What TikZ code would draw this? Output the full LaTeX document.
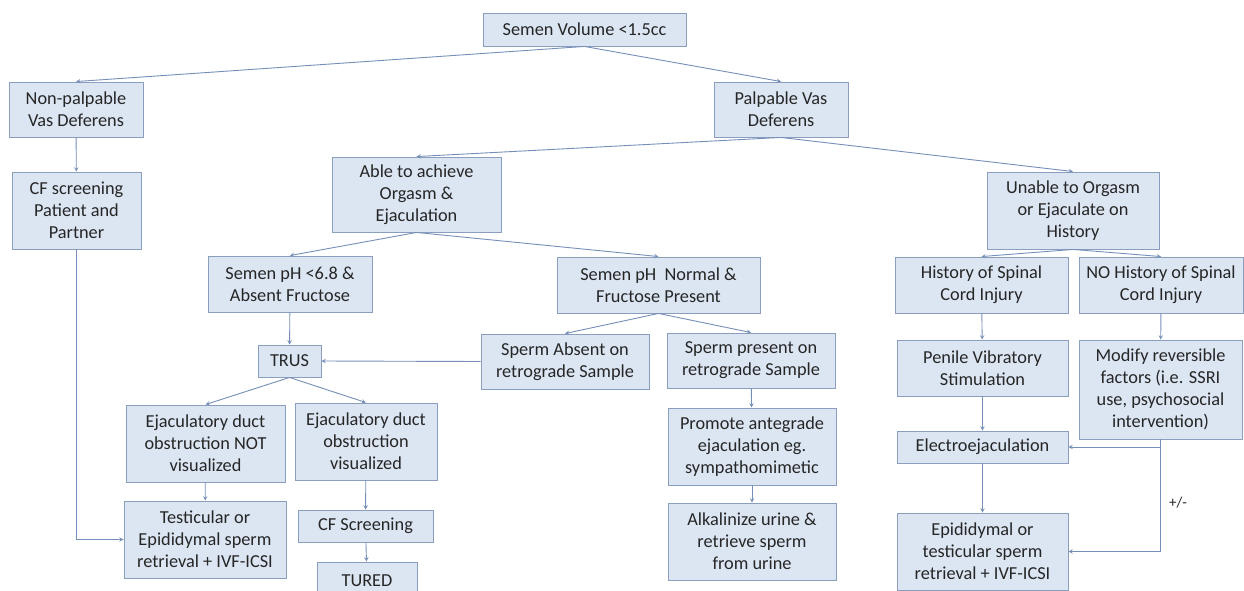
\documentclass[tikz,border=0pt]{standalone}
\usepackage{fontspec}
\setmainfont{Carlito}
\usepackage{xcolor}
\usepackage{tikz}
\usetikzlibrary{arrows}
\definecolor{boxfill}{RGB}{220,230,243}
\definecolor{boxline}{RGB}{140,158,190}
\definecolor{linkline}{RGB}{118,143,184}
\tikzset{
  box/.style={draw=boxline, fill=boxfill, line width=0.9pt, align=center,
    inner sep=0pt, text=black!85, font=\fontsize{18.3}{22}\selectfont},
  link/.style={draw=linkline, line width=0.9pt, ->, >=stealth}
}
\begin{document}
\begin{tikzpicture}[x=1pt,y=-1pt]
	\useasboundingbox[fill=white] (0,0) rectangle (1244,591);
	% top levels
	\node[box, minimum width=203, minimum height=33] (vol) at (584.5,29.5) {Semen Volume <1.5cc};
	\node[box, minimum width=134, minimum height=55] (nonpalp) at (76,109.5) {Non-palpable\\Vas Deferens};
	\node[box, minimum width=134, minimum height=55] (palp) at (781,109.5) {Palpable Vas\\Deferens};
	\node[box, minimum width=129, minimum height=77] (cfpat) at (76.5,210.5) {CF screening\\Patient and\\Partner};
	\node[box, minimum width=169, minimum height=75] (able) at (416.5,194.5) {Able to achieve\\Orgasm \&\\Ejaculation};
	\node[box, minimum width=172, minimum height=77] (unable) at (1073,210.5) {Unable to Orgasm\\or Ejaculate on\\History};
	\node[box, minimum width=164, minimum height=56] (phlow) at (290,284) {Semen pH <6.8 \&\\Absent Fructose};
	\node[box, minimum width=203, minimum height=56] (phnorm) at (658.5,285) {Semen pH~ Normal \&\\Fructose Present};
	\node[box, minimum width=173, minimum height=56] (sci) at (981.5,285) {History of Spinal\\Cord Injury};
	\node[box, minimum width=164, minimum height=56] (nosci) at (1161,285) {NO History of Spinal\\Cord Injury};
	% middle
	\node[box, minimum width=63, minimum height=32] (trus) at (289.5,361) {TRUS};
	\node[box, minimum width=168, minimum height=55] (absent) at (565,361.5) {Sperm Absent on\\retrograde Sample};
	\node[box, minimum width=168, minimum height=55] (present) at (751,360.5) {Sperm present on\\retrograde Sample};
	\node[box, minimum width=171, minimum height=56] (pvs) at (982.5,368) {Penile Vibratory\\Stimulation};
	\node[box, minimum width=163, minimum height=99] (modify) at (1160.5,389.5) {Modify reversible\\factors (i.e. SSRI\\use, psychosocial\\intervention)};
	\node[box, minimum width=159, minimum height=77] (notvis) at (205.5,443.5) {Ejaculatory duct\\obstruction NOT\\visualized};
	\node[box, minimum width=142, minimum height=77] (vis) at (366,441.5) {Ejaculatory duct\\obstruction\\visualized};
	\node[box, minimum width=168, minimum height=77] (promote) at (752,446.5) {Promote antegrade\\ejaculation eg.\\sympathomimetic};
	\node[box, minimum width=171, minimum height=32] (electro) at (982.5,447) {Electroejaculation};
	% bottom
	\node[box, minimum width=162, minimum height=77] (tese) at (205,539.5) {Testicular or\\Epididymal sperm\\retrieval + IVF-ICSI};
	\node[box, minimum width=135, minimum height=32] (cfscr) at (365.5,526) {CF Screening};
	\node[box, minimum width=100, minimum height=38] (tured) at (367,581) {TURED};
	\node[box, minimum width=168, minimum height=77] (alkal) at (752,541.5) {Alkalinize urine \&\\retrieve sperm\\from urine};
	\node[box, minimum width=171, minimum height=77] (epid) at (982.5,551.5) {Epididymal or\\testicular sperm\\retrieval + IVF-ICSI};
	\node[font=\fontsize{15}{18}\selectfont, inner sep=0pt, text=black!85] (pm) at (1178,503) {+/-};
	% connectors
	\draw[link] (vol.south) -- (nonpalp.north);
	\draw[link] (vol.south) -- (palp.north);
	\draw[link] (nonpalp) -- (cfpat);
	\draw[link] (cfpat.south) |- (tese.west);
	\draw[link] (palp.south) -- (able.north);
	\draw[link] (palp.south) -- (unable.north);
	\draw[link] (able.south) -- (phlow.north);
	\draw[link] (able.south) -- (phnorm.north);
	\draw[link] (phlow) -- (trus);
	\draw[link] (absent.west) -- (trus.east);
	\draw[link] (phnorm.south) -- (absent.north);
	\draw[link] (phnorm.south) -- (present.north);
	\draw[link] (trus.south) -- (notvis.north);
	\draw[link] (trus.south) -- (vis.north);
	\draw[link] (notvis) -- (tese);
	\draw[link] (vis) -- (cfscr);
	\draw[link] (cfscr) -- (tured);
	\draw[link] (present) -- (promote);
	\draw[link] (promote) -- (alkal);
	\draw[link] (unable.south) -- (sci.north);
	\draw[link] (unable.south) -- (nosci.north);
	\draw[link] (sci) -- (pvs);
	\draw[link] (nosci) -- (modify);
	\draw[link] (pvs) -- (electro);
	\draw[link] (electro) -- (epid);
	\draw[link] (modify.south) |- (electro.east);
	\draw[link] (modify.south) |- (epid.east);
\end{tikzpicture}
\end{document}
